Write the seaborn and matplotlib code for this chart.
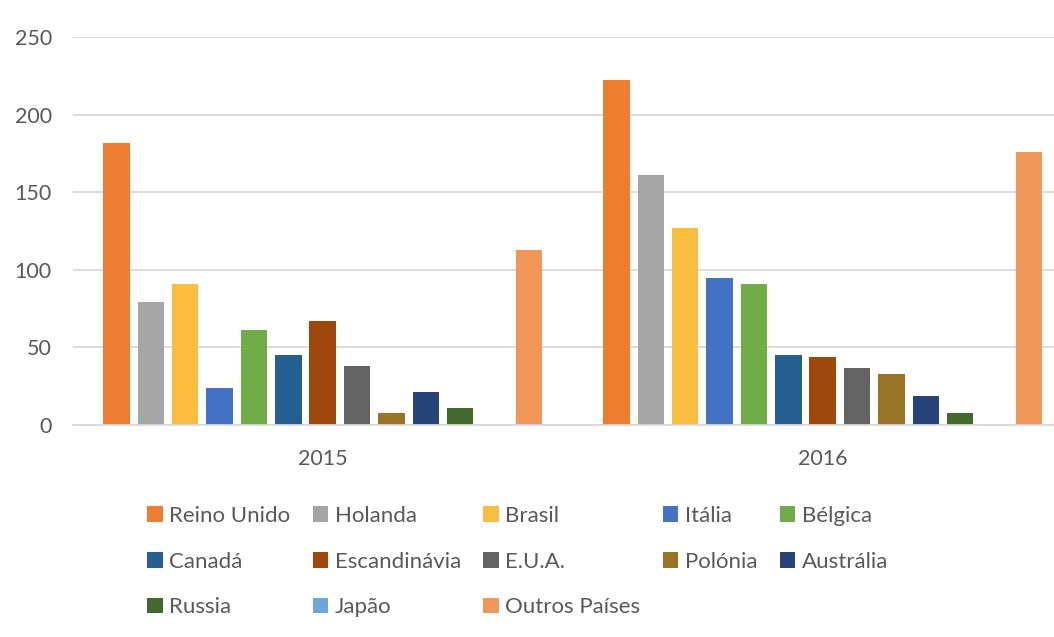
import seaborn as sns
from matplotlib import pyplot as plt
import pandas as pd

# dados
anos = ["2015", "2016"]
paises = ["Reino Unido", "Holanda", "Brasil", "Itália", "Bélgica", "Canadá",
          "Escandinávia", "E.U.A.", "Polónia", "Austrália", "Russia", "Japão",
          "Outros Países"]
valores_2015 = [182, 79, 91, 24, 61, 45, 67, 38, 8, 21, 11, 0, 113]
valores_2016 = [222, 161, 127, 95, 91, 45, 44, 37, 33, 19, 8, 0, 176]
cores = ["#ED7D31", "#A5A5A5", "#F9BE40", "#4472C4", "#70AD47", "#255E91",
         "#9E480E", "#636363", "#9A7426", "#264478", "#43682B", "#6FA5DC",
         "#F1975A"]

df = pd.DataFrame({
    "ano": [anos[0]] * len(paises) + [anos[1]] * len(paises),
    "pais": paises + paises,
    "valor": valores_2015 + valores_2016,
})

sns.set_theme(style="white")
plt.rcParams["font.family"] = ["Lato", "DejaVu Sans"]

fig = plt.figure(figsize=(10.54, 6.37), dpi=100)
ax = fig.add_axes([72.7 / 1054, 1 - 425 / 637, 1000 / 1054, 388 / 637])

sns.barplot(data=df, x="ano", y="valor", hue="pais", palette=cores,
            width=0.894, gap=0.23, ax=ax, saturation=1, linewidth=0)

ax.set_ylim(0, 250)
ax.set_xlim(-0.5, 1.5)
ax.set_yticks([0, 50, 100, 150, 200, 250])
ax.grid(axis="y", color="#D9D9D9", linewidth=1.3)
ax.set_axisbelow(True)
for s in ["top", "right", "left"]:
    ax.spines[s].set_visible(False)
ax.spines["bottom"].set_color("#D9D9D9")
ax.spines["bottom"].set_linewidth(1.3)
ax.set_xlabel("")
ax.set_ylabel("")
ax.tick_params(axis="y", length=0, pad=15, labelsize=15.5, labelcolor="#595959")
ax.tick_params(axis="x", length=0, pad=17, labelsize=15.5, labelcolor="#595959")

# legenda em 5 colunas, preenchida por linhas
handles, labels = ax.get_legend_handles_labels()
ax.get_legend().remove()
ordem = [0, 5, 10, 1, 6, 11, 2, 7, 12, 3, 8, 4, 9]
fig.legend([handles[i] for i in ordem], [labels[i] for i in ordem],
           ncol=5, loc="upper left", bbox_to_anchor=(127 / 1054, 1 - 486 / 637),
           frameon=False, fontsize=16, labelcolor="#595959",
           handlelength=0.7, handleheight=0.7, handletextpad=0.3,
           columnspacing=1.0, labelspacing=1.15)

fig.savefig("out.png", dpi=100)
